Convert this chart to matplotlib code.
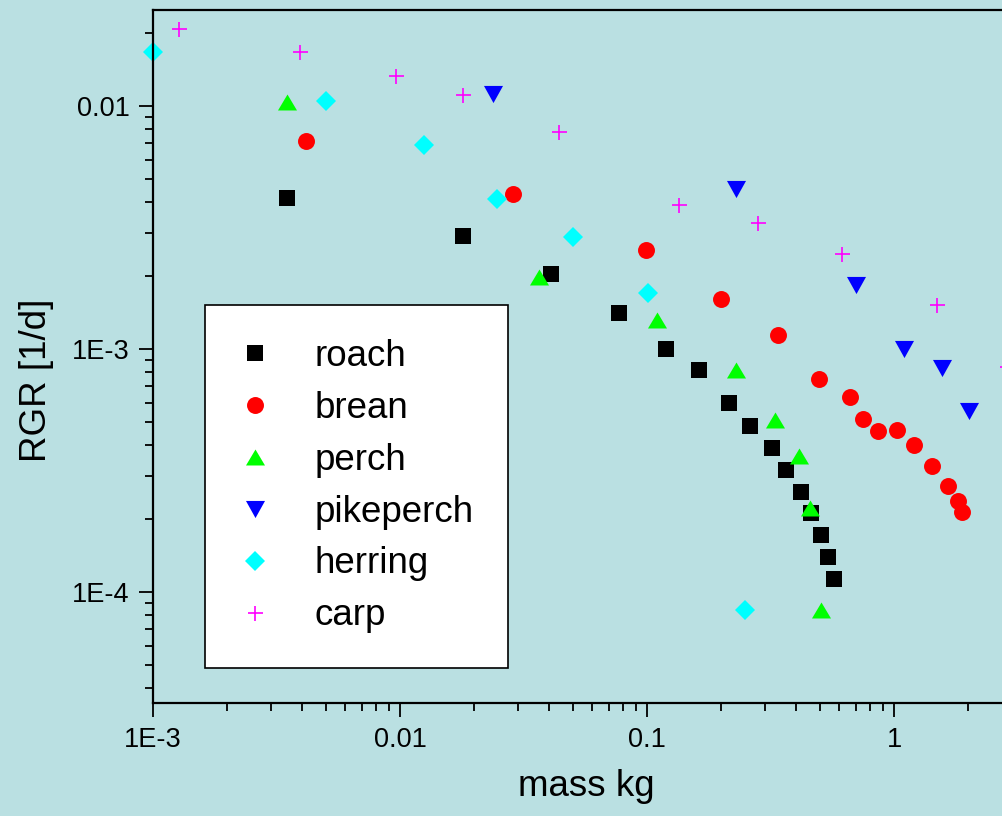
import matplotlib
matplotlib.use("Agg")
import matplotlib.pyplot as plt

plt.rcParams['font.family'] = ['Liberation Sans', 'DejaVu Sans']

# mass [kg] and RGR [1/d] per species
roach_mass = [0.00348, 0.0180, 0.0407, 0.0767, 0.119, 0.162, 0.214, 0.262,
              0.322, 0.367, 0.419, 0.463, 0.505, 0.538, 0.569]
roach_rgr = [0.00417, 0.00291, 0.00203, 0.00140, 0.000997, 0.000817, 0.000598,
             0.000481, 0.000391, 0.000317, 0.000258, 0.000211, 0.000171,
             0.000139, 0.000113]

brean_mass = [0.00418, 0.0288, 0.0987, 0.200, 0.340, 0.499, 0.661, 0.752,
              0.865, 1.03, 1.20, 1.42, 1.65, 1.81, 1.89]
brean_rgr = [0.00716, 0.00433, 0.00255, 0.00160, 0.00114, 0.000750, 0.000633,
             0.000514, 0.000458, 0.000463, 0.000401, 0.000329, 0.000272,
             0.000236, 0.000213]

perch_mass = [0.00348, 0.0364, 0.110, 0.229, 0.329, 0.411, 0.456, 0.505]
perch_rgr = [0.01035, 0.00197, 0.00131, 0.000816, 0.000509, 0.000362,
             0.000221, 0.0000841]

pikeperch_mass = [0.0239, 0.229, 0.700, 1.094, 1.57, 2.01]
pikeperch_rgr = [0.01117, 0.00454, 0.00183, 0.000998, 0.000833, 0.000555]

herring_mass = [0.001, 0.00500, 0.01247, 0.0248, 0.0500, 0.1007, 0.249]
herring_rgr = [0.01664, 0.01045, 0.00689, 0.00412, 0.00288, 0.00169, 0.000084]

carp_mass = [0.00128, 0.00393, 0.00962, 0.01795, 0.0440, 0.1346, 0.281,
             0.615, 1.49, 2.88]
carp_rgr = [0.0207, 0.01664, 0.01324, 0.01107, 0.00779, 0.00390, 0.00329,
            0.00245, 0.00151, 0.000841]

x_ticks = [1e-3, 0.01, 0.1, 1]
x_tick_labels = ['1E-3', '0.01', '0.1', '1']
y_ticks = [1e-4, 1e-3, 0.01]
y_tick_labels = ['1E-4', '1E-3', '0.01']

bg = '#bae0e2'
tri_up = [(0, 0.84), (-1, -0.84), (1, -0.84)]
tri_down = [(0, -0.9), (-1, 0.9), (1, 0.9)]

series = [
    ('roach', roach_mass, roach_rgr, dict(marker='s', color='black', ms=11.2)),
    ('brean', brean_mass, brean_rgr, dict(marker='o', color='red', ms=12.2)),
    ('perch', perch_mass, perch_rgr, dict(marker=tri_up, color='#00ff00', ms=13.7)),
    ('pikeperch', pikeperch_mass, pikeperch_rgr,
     dict(marker=tri_down, color='blue', ms=13.7)),
    ('herring', herring_mass, herring_rgr, dict(marker='D', color='cyan', ms=9.7)),
    ('carp', carp_mass, carp_rgr,
     dict(marker='+', color='magenta', ms=10.8, mew=1.2)),
]

fig = plt.figure(figsize=(10.03, 8.16), dpi=100, facecolor=bg)
ax = fig.add_axes([153 / 1003, 113 / 816, 866 / 1003, 693 / 816])
ax.set_facecolor(bg)

for name, xs, ys, style in series:
    ax.plot(xs, ys, linestyle='none', label=name, clip_on=False,
            markeredgewidth=style.pop('mew', 0), **style)

ax.set_xscale('log')
ax.set_yscale('log')
ax.set_xlim(1e-3, 10 ** 0.506)
ax.set_ylim(10 ** -4.458, 10 ** -1.606)
ax.set_xticks(x_ticks, x_tick_labels)
ax.set_yticks(y_ticks, y_tick_labels)

for side in ['left', 'bottom', 'top', 'right']:
    ax.spines[side].set_linewidth(1.6)
ax.tick_params(which='major', direction='out', length=10, width=1.3,
               labelsize=19.5, pad=7)
ax.tick_params(which='minor', direction='out', length=6, width=1.3)

ax.set_xlabel('mass kg', fontsize=26.5, labelpad=12)
fig.text(36 / 1003, 1 - 380 / 816, 'RGR [1/d]', fontsize=26.5, rotation=90,
         ha='center', va='center')

leg = ax.legend(loc='upper left', bbox_to_anchor=(51.5 / 866, (703 - 304.5) / 693),
                borderaxespad=0, fontsize=26.5, frameon=True, fancybox=False,
                framealpha=1, edgecolor='black', borderpad=0.93,
                handlelength=0.87, handletextpad=1.2, labelspacing=0.46,
                numpoints=1)
leg.get_frame().set_linewidth(1.2)

fig.savefig('out.png', dpi=100, facecolor=bg)
